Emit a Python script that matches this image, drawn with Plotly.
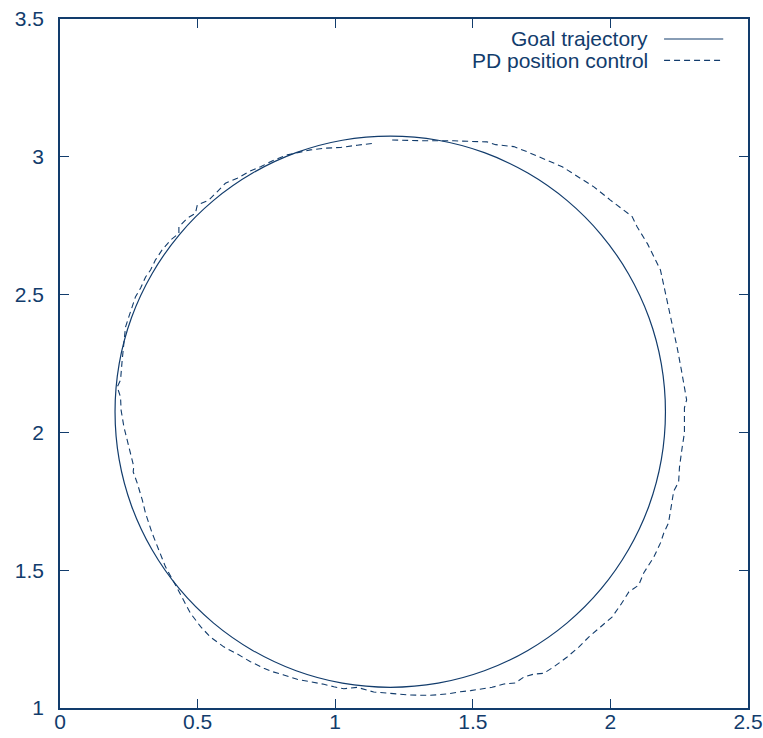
import plotly.graph_objects as go

# ---- data ----
series_names = ["Goal trajectory", "PD position control"]

goal_x = [1.200, 1.374, 1.542, 1.700, 1.843, 1.966, 2.066, 2.140, 2.185, 2.200,
          2.185, 2.140, 2.066, 1.966, 1.843, 1.700, 1.542, 1.374, 1.200,
          1.026, 0.858, 0.700, 0.557, 0.434, 0.334, 0.260, 0.215, 0.200,
          0.215, 0.260, 0.334, 0.434, 0.557, 0.700, 0.858, 1.026, 1.200]
goal_y = [3.075, 3.060, 3.015, 2.941, 2.841, 2.718, 2.575, 2.417, 2.249, 2.075,
          1.901, 1.733, 1.575, 1.432, 1.309, 1.209, 1.135, 1.090, 1.075,
          1.090, 1.135, 1.209, 1.309, 1.432, 1.575, 1.733, 1.901, 2.075,
          2.249, 2.417, 2.575, 2.718, 2.841, 2.941, 3.015, 3.060, 3.075]

pd_x = [1.207, 1.322, 1.431, 1.552, 1.583, 1.649, 1.698, 1.770, 1.825, 1.891, 1.940, 2.000,
        2.079, 2.097, 2.135, 2.182, 2.194, 2.206, 2.230, 2.243, 2.258, 2.273, 2.277, 2.269,
        2.269, 2.261, 2.251, 2.248, 2.230, 2.222, 2.211, 2.194, 2.182, 2.158, 2.121, 2.103,
        2.067, 2.037, 2.006, 1.964, 1.922, 1.885, 1.843, 1.794, 1.758, 1.722, 1.685, 1.655,
        1.613, 1.570, 1.528, 1.492, 1.455, 1.407, 1.346, 1.274, 1.201, 1.140, 1.080, 1.031,
        0.995, 0.959, 0.910, 0.862, 0.813, 0.771, 0.741, 0.692, 0.644, 0.595, 0.547, 0.511,
        0.474, 0.450, 0.423, 0.383, 0.353, 0.335, 0.311, 0.299, 0.281, 0.266, 0.268, 0.256,
        0.244, 0.232, 0.222, 0.220, 0.208, 0.220, 0.226, 0.232, 0.238, 0.250, 0.262, 0.274,
        0.293, 0.311, 0.329, 0.347, 0.371, 0.402, 0.432, 0.432, 0.462, 0.492, 0.499, 0.541,
        0.571, 0.601, 0.644, 0.686, 0.729, 0.777, 0.826, 0.874, 0.910, 0.959, 1.019, 1.080,
        1.138]
pd_y = [3.061, 3.058, 3.058, 3.054, 3.044, 3.037, 3.018, 2.988, 2.964, 2.922, 2.891, 2.843,
        2.783, 2.746, 2.684, 2.589, 2.535, 2.480, 2.372, 2.306, 2.226, 2.147, 2.118, 2.089,
        1.998, 1.947, 1.874, 1.820, 1.787, 1.737, 1.671, 1.635, 1.599, 1.548, 1.490, 1.446,
        1.421, 1.374, 1.330, 1.294, 1.258, 1.221, 1.185, 1.149, 1.126, 1.123, 1.112, 1.091,
        1.087, 1.075, 1.068, 1.063, 1.059, 1.051, 1.046, 1.047, 1.053, 1.058, 1.075, 1.070,
        1.077, 1.086, 1.095, 1.104, 1.120, 1.132, 1.144, 1.168, 1.196, 1.222, 1.257, 1.295,
        1.344, 1.392, 1.440, 1.513, 1.585, 1.634, 1.706, 1.755, 1.815, 1.857, 1.876, 1.924,
        1.972, 2.021, 2.081, 2.128, 2.165, 2.190, 2.263, 2.335, 2.382, 2.419, 2.455, 2.491,
        2.524, 2.564, 2.589, 2.626, 2.662, 2.698, 2.722, 2.746, 2.777, 2.795, 2.825, 2.843,
        2.873, 2.904, 2.922, 2.946, 2.964, 2.988, 3.007, 3.018, 3.025, 3.031, 3.034, 3.042,
        3.049]

x_range = [0, 2.5]
y_range = [1, 3.5]
x_ticks = [0, 0.5, 1, 1.5, 2, 2.5]
y_ticks = [1, 1.5, 2, 2.5, 3, 3.5]

# ---- style ----
INK = "#123c6c"
FONT = "Liberation Sans, Arial, Helvetica, sans-serif"
DASH = "6px,4px"

fig = go.Figure()
fig.add_trace(go.Scatter(x=goal_x, y=goal_y, mode="lines", name=series_names[0],
                         line=dict(color=INK, width=1.2, shape="spline", smoothing=1.0),
                         showlegend=False))
fig.add_trace(go.Scatter(x=pd_x, y=pd_y, mode="lines", name=series_names[1],
                         line=dict(color=INK, width=1.1, dash=DASH),
                         showlegend=False))

axis_common = dict(showgrid=False, zeroline=False, showline=True, mirror="ticks",
                   linecolor=INK, linewidth=1.6, ticks="inside", ticklen=9,
                   tickwidth=1.3, tickcolor=INK, automargin=False,
                   tickfont=dict(family=FONT, size=21, color=INK))
fig.update_xaxes(range=x_range, tickvals=x_ticks, ticklabelstandoff=-6, **axis_common)
fig.update_yaxes(range=y_range, tickvals=y_ticks, ticklabelstandoff=10, **axis_common)

# legend drawn gnuplot-style: text right-aligned, sample line to the right
legend_rows = [(series_names[0], None, 0.971), (series_names[1], DASH, 0.940)]
for name, dash, yp in legend_rows:
    fig.add_annotation(x=0.857, y=yp, xref="paper", yref="paper", text=name,
                       showarrow=False, xanchor="right", yanchor="middle",
                       font=dict(family=FONT, size=21, color=INK))
    fig.add_shape(type="line", xref="paper", yref="paper",
                  x0=0.878, x1=0.964, y0=yp, y1=yp,
                  line=dict(color=INK, width=1.1, dash=dash if dash else "solid"))

fig.update_layout(width=763, height=738, paper_bgcolor="white", plot_bgcolor="white",
                  margin=dict(l=60, r=15, t=19, b=30), showlegend=False)

fig.write_html("out.html")
